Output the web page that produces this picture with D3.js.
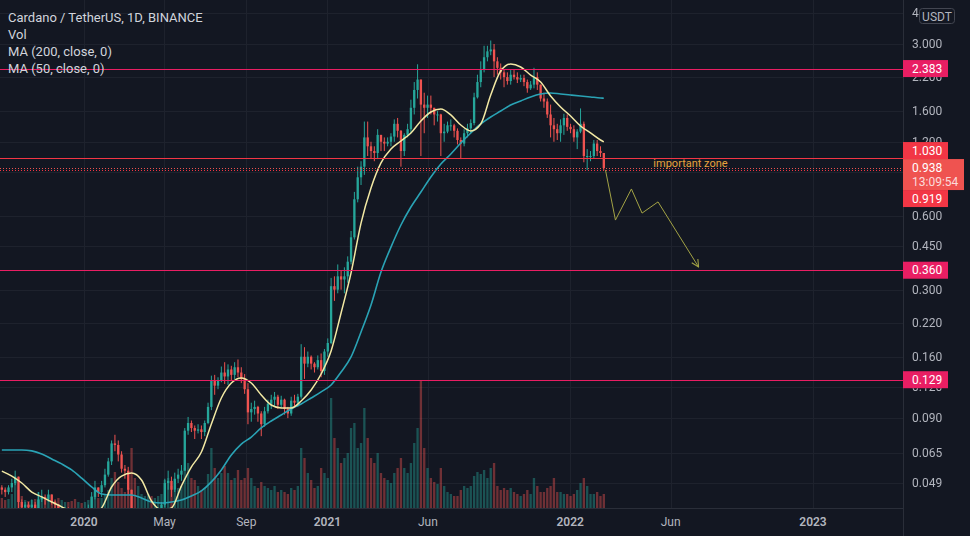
<!DOCTYPE html>
<html><head><meta charset="utf-8">
<script src="https://cdn.jsdelivr.net/npm/d3@7"></script>
<style>
html,body{margin:0;padding:0;background:#131722;overflow:hidden;}
svg{display:block;font-family:Roboto,"Noto Sans",sans-serif;}
</style></head><body>
<svg id="c" width="970" height="536"></svg>
<script>
// ---------------- DATA ----------------
const startDate = "2019-08-28";   // first 5-day bucket
const bucketDays = 5;
const firstOpen = 0.047;
const closes = [0.046,0.045,0.047,0.049,0.052,0.041,0.039,0.040,0.039,0.040,
0.037,0.042,0.043,0.042,0.044,0.041,0.040,0.036,0.037,0.038,
0.037,0.035,0.034,0.034,0.033,0.034,0.038,0.043,0.047,0.045,
0.048,0.053,0.060,0.071,0.070,0.064,0.056,0.055,0.046,0.029,
0.027,0.028,0.030,0.030,0.034,0.033,0.034,0.037,0.040,0.049,
0.050,0.046,0.051,0.053,0.055,0.080,0.086,0.082,0.080,0.081,
0.079,0.086,0.100,0.128,0.122,0.128,0.138,0.133,0.142,0.135,
0.145,0.138,0.130,0.118,0.095,0.098,0.100,0.094,0.085,0.096,
0.103,0.107,0.110,0.102,0.107,0.098,0.094,0.106,0.104,0.110,
0.160,0.150,0.160,0.150,0.145,0.155,0.140,0.168,0.182,0.310,
0.300,0.340,0.330,0.340,0.390,0.490,0.700,0.860,0.950,1.250,
1.150,1.100,1.080,1.280,1.200,1.180,1.200,1.260,1.420,1.330,
1.100,1.280,1.350,1.650,1.950,2.150,1.700,1.650,1.700,1.650,
1.550,1.550,1.300,1.320,1.400,1.400,1.330,1.220,1.180,1.300,
1.360,1.430,1.820,2.100,2.350,2.650,2.800,2.850,2.550,2.400,
2.300,2.200,2.120,2.250,2.200,2.150,2.180,2.100,1.980,2.050,
2.200,2.050,1.800,1.750,1.550,1.400,1.350,1.300,1.400,1.500,
1.380,1.350,1.250,1.320,1.420,1.050,1.050,1.050,1.180,1.100,
1.080,0.938];
const highs = [0.048,0.047,0.048,0.051,0.055,0.052,0.042,0.041,0.041,0.042,
0.041,0.045,0.046,0.044,0.046,0.044,0.042,0.040,0.039,0.039,
0.039,0.037,0.036,0.036,0.035,0.035,0.040,0.045,0.050,0.047,
0.050,0.056,0.062,0.073,0.077,0.073,0.066,0.058,0.057,0.046,
0.031,0.031,0.031,0.033,0.035,0.036,0.036,0.039,0.041,0.051,
0.055,0.052,0.054,0.056,0.058,0.082,0.091,0.088,0.084,0.085,
0.084,0.088,0.104,0.134,0.135,0.132,0.146,0.152,0.149,0.147,
0.152,0.156,0.145,0.136,0.125,0.104,0.106,0.101,0.096,0.100,
0.107,0.112,0.115,0.112,0.111,0.108,0.100,0.110,0.112,0.113,
0.180,0.175,0.168,0.162,0.152,0.162,0.165,0.172,0.190,0.335,
0.340,0.380,0.360,0.370,0.410,0.520,0.750,0.950,1.000,1.450,
1.450,1.200,1.150,1.350,1.280,1.250,1.250,1.300,1.480,1.500,
1.340,1.300,1.420,1.780,2.100,2.480,2.150,1.900,1.850,1.850,
1.650,1.600,1.560,1.420,1.450,1.480,1.420,1.360,1.250,1.350,
1.420,1.480,1.900,2.250,2.550,2.950,2.950,3.100,3.000,2.650,
2.500,2.350,2.300,2.350,2.350,2.300,2.250,2.250,2.150,2.120,
2.400,2.300,2.050,1.900,1.800,1.700,1.500,1.420,1.480,1.560,
1.550,1.420,1.400,1.350,1.640,1.450,1.120,1.100,1.220,1.220,
1.150,1.080];
const lows = [0.044,0.043,0.044,0.045,0.048,0.038,0.036,0.038,0.037,0.038,
0.036,0.036,0.041,0.040,0.041,0.040,0.038,0.034,0.034,0.036,
0.036,0.034,0.031,0.033,0.032,0.032,0.033,0.037,0.042,0.043,
0.043,0.047,0.052,0.058,0.066,0.060,0.054,0.051,0.044,0.022,
0.024,0.026,0.027,0.028,0.029,0.031,0.031,0.033,0.036,0.039,
0.046,0.043,0.045,0.049,0.050,0.055,0.077,0.079,0.074,0.078,
0.074,0.076,0.085,0.097,0.112,0.118,0.126,0.124,0.123,0.128,
0.130,0.132,0.125,0.113,0.085,0.087,0.093,0.087,0.076,0.083,
0.094,0.098,0.101,0.098,0.099,0.093,0.090,0.092,0.099,0.100,
0.108,0.130,0.145,0.142,0.138,0.142,0.132,0.135,0.160,0.180,
0.270,0.290,0.300,0.290,0.320,0.380,0.480,0.680,0.800,0.880,
1.050,1.020,1.000,1.020,1.100,1.100,1.150,1.150,1.200,1.250,
0.950,1.050,1.250,1.300,1.550,1.800,1.050,1.300,1.500,1.550,
1.400,1.450,1.050,1.200,1.300,1.330,1.250,1.170,1.020,1.150,
1.250,1.300,1.400,1.800,2.000,2.300,2.550,2.700,2.200,2.250,
2.150,2.000,2.050,2.050,2.150,2.080,2.100,2.020,1.900,1.950,
1.980,1.950,1.750,1.650,1.500,1.250,1.200,1.220,1.200,1.280,
1.330,1.300,1.200,1.120,1.300,0.990,0.920,1.000,1.030,1.050,
1.040,0.919];
const volumes = [100,80,90,140,280,180,120,80,70,80,
90,160,120,80,90,80,70,100,80,60,
60,70,90,60,50,60,80,120,160,100,
100,140,180,300,360,260,200,160,200,600,
300,220,140,120,140,120,100,120,140,280,
300,220,180,200,220,400,450,300,280,220,
180,200,340,600,400,300,350,420,350,280,
300,380,280,300,400,300,220,200,260,220,
200,180,220,160,180,160,140,200,180,220,
600,500,350,280,200,220,400,350,300,1100,
700,600,450,500,550,800,850,600,650,1000,
700,500,450,550,350,300,280,250,350,400,
500,400,350,450,650,800,1280,600,400,300,
260,240,400,220,160,140,120,120,180,220,
200,220,320,360,340,380,300,400,450,220,
180,200,180,200,160,140,120,140,180,140,
300,220,160,160,200,220,300,160,160,140,
140,120,140,180,250,300,220,140,140,160,
120,140];
// moving averages, one value every 3 buckets (last = final bucket)
const maStep = 3;
const ma200 = [0.0668,0.0668,0.0668,0.0662,0.0643,0.0614,0.0586,0.0554,0.0513,0.0472,
0.0442,0.0438,0.0438,0.0438,0.0426,0.0410,0.0406,0.0410,0.0418,0.0434,
0.0455,0.0495,0.0554,0.0637,0.0706,0.0754,0.0821,0.0876,0.0927,0.0981,
0.1028,0.1087,0.1151,0.1228,0.1387,0.1597,0.2018,0.2599,0.354,0.447,
0.550,0.651,0.749,0.863,0.974,1.070,1.186,1.303,1.418,1.514,
1.601,1.694,1.759,1.826,1.877,1.896,1.877,1.860,1.843,1.826,
1.809,1.805];
const ma50 = [0.0548,0.0523,0.0490,0.0450,0.0430,0.0410,0.0392,0.0374,0.0363,0.0367,
0.0388,0.0472,0.0523,0.0538,0.0504,0.0414,0.0381,0.0388,0.0477,0.0570,
0.0655,0.0852,0.1087,0.1251,0.1312,0.1251,0.1118,0.1018,0.0990,0.0990,
0.1057,0.1172,0.1361,0.1689,0.2411,0.351,0.560,0.778,0.984,1.121,
1.209,1.303,1.458,1.586,1.632,1.543,1.404,1.328,1.418,1.860,
2.329,2.488,2.418,2.243,2.101,1.843,1.663,1.528,1.391,1.303,
1.220,1.198];
const gridPrices = [4,3,2.2,1.6,1.2,0.9,0.6,0.45,0.3,0.22,0.16,0.12,0.09,0.065,0.049];
const tickLabels = ["4","3.000","2.200","1.600","1.200","","0.600","0.450","0.300","0.220","0.160","0.120","0.090","0.065","0.049"];
const timeTicks = ["2020-01-01","2020-05-01","2020-09-01","2021-01-01","2021-06-01","2022-01-01","2022-06-01","2023-01-01"];
const timeLabels = ["2020","May","Sep","2021","Jun","2022","Jun","2023"];
const levelPrices = [2.383,1.030,0.360,0.129];
const levelColors = ["#e91e63","#f23645","#e91e63","#e91e63"];
const lastPrice = 0.938, lastColor = "#ef5350", countdown = "13:09:54";
const prevPrice = 0.919, prevColor = "#f23645";
const projDates = ["2022-02-23","2022-03-10","2022-04-03","2022-04-19","2022-05-13","2022-07-13"];
const projPrices = [0.921,0.576,0.771,0.615,0.683,0.371];
const zoneText = "important zone", zoneDate = "2022-05-06";
const legendLines = ["Cardano / TetherUS, 1D, BINANCE","Vol","MA (200, close, 0)","MA (50, close, 0)"];

// ---------------- CHART ----------------
const W = 970, H = 536, paneR = 903, paneB = 508;
const BG = "#131722", TXT = "#b2b5be", GRID = "#1e222d";
const UP = "#26a69a", DN = "#ef5350";
const svg = d3.select("#c");
const day = s => new Date(s + "T00:00:00Z");
const x = d3.scaleUtc().domain([day("2020-01-01"), day("2023-01-01")]).range([84, 813]);
const y = d3.scaleLog().domain([3, 0.049]).range([44, 483]);
const v = d3.scaleLinear().domain([0, 1280]).range([paneB, 380]);
const fmt = d3.format(".3f");

svg.append("rect").attr("width", W).attr("height", H).attr("fill", BG);
const defs = svg.append("defs");
defs.append("clipPath").attr("id", "pane")
  .append("rect").attr("x", 0).attr("y", 0).attr("width", paneR).attr("height", paneB);

// grid
const grid = svg.append("g").attr("shape-rendering", "crispEdges").attr("stroke", GRID);
gridPrices.forEach(p => grid.append("line").attr("x1", 0).attr("x2", paneR)
  .attr("y1", Math.round(y(p)) + 0.5).attr("y2", Math.round(y(p)) + 0.5));
timeTicks.forEach(t => grid.append("line").attr("y1", 0).attr("y2", paneB)
  .attr("x1", Math.round(x(day(t))) + 0.5).attr("x2", Math.round(x(day(t))) + 0.5));

// candles
const t0 = day(startDate);
const candles = closes.map((c, i) => {
  const open = i === 0 ? firstOpen : closes[i - 1];
  const d0 = d3.utcDay.offset(t0, i * bucketDays);
  const mid = new Date(+d0 + bucketDays * 43200000);
  return { date: mid, open, close: c, high: Math.max(highs[i], open, c), low: Math.min(lows[i], open, c), vol: volumes[i], up: c >= open };
});
const step = x(d3.utcDay.offset(t0, bucketDays)) - x(t0);
const bw = step * 0.7;

const pane = svg.append("g").attr("clip-path", "url(#pane)");
// volume
pane.append("g").selectAll("rect").data(candles).join("rect")
  .attr("x", d => x(d.date) - bw / 2).attr("width", bw)
  .attr("y", d => v(d.vol)).attr("height", d => paneB - v(d.vol))
  .attr("fill", d => d.up ? "rgba(38,166,154,0.42)" : "rgba(239,83,80,0.42)");
// wicks + bodies
const cg = pane.append("g");
cg.selectAll("line").data(candles).join("line")
  .attr("x1", d => x(d.date)).attr("x2", d => x(d.date))
  .attr("y1", d => y(d.high)).attr("y2", d => y(d.low))
  .attr("stroke", d => d.up ? UP : DN).attr("stroke-width", 1);
cg.selectAll("rect").data(candles).join("rect")
  .attr("x", d => x(d.date) - bw / 2).attr("width", bw)
  .attr("y", d => y(Math.max(d.open, d.close)))
  .attr("height", d => Math.max(1, Math.abs(y(d.open) - y(d.close))))
  .attr("fill", d => d.up ? UP : DN);

// moving averages
const maPts = arr => arr.map((val, k) => {
  const idx = Math.min(k * maStep, candles.length - 1);
  return [x(candles[idx].date), y(val)];
});
const lineGen = d3.line().curve(d3.curveMonotoneX);
pane.append("path").attr("d", lineGen(maPts(ma200))).attr("fill", "none")
  .attr("stroke", "#2aa3b5").attr("stroke-width", 1.6);
pane.append("path").attr("d", lineGen(maPts(ma50))).attr("fill", "none")
  .attr("stroke", "#f3e9a4").attr("stroke-width", 1.5);

// horizontal levels
const lv = svg.append("g").attr("shape-rendering", "crispEdges");
levelPrices.forEach((p, i) => lv.append("line").attr("x1", 0).attr("x2", paneR)
  .attr("y1", Math.round(y(p)) + 0.5).attr("y2", Math.round(y(p)) + 0.5)
  .attr("stroke", levelColors[i]).attr("stroke-width", 1));
[[lastPrice, lastColor], [prevPrice, prevColor]].forEach(([p, c]) =>
  lv.append("line").attr("x1", 0).attr("x2", paneR)
    .attr("y1", Math.round(y(p)) + 0.5).attr("y2", Math.round(y(p)) + 0.5)
    .attr("stroke", c).attr("stroke-dasharray", "1 2"));

// projection drawing
defs.append("marker").attr("id", "ah").attr("viewBox", "0 0 10 10").attr("refX", 9).attr("refY", 5)
  .attr("markerWidth", 9).attr("markerHeight", 9).attr("markerUnits", "userSpaceOnUse").attr("orient", "auto")
  .append("path").attr("d", "M1,1 L9,5 L1,9").attr("fill", "none").attr("stroke", "#a3a345").attr("stroke-width", 1.2);
const proj = projDates.map((d, i) => [x(day(d)), y(projPrices[i])]);
svg.append("path").attr("d", d3.line()(proj)).attr("fill", "none")
  .attr("stroke", "#a3a345").attr("stroke-width", 1).attr("marker-end", "url(#ah)");
svg.append("text").attr("x", x(day(zoneDate))).attr("y", (y(1.030) + y(lastPrice)) / 2)
  .attr("dominant-baseline", "central").attr("font-size", 11).attr("fill", "#e8a33d").text(zoneText);

// legend
legendLines.forEach((t, i) => svg.append("text").attr("x", 8).attr("y", 17 + i * 17)
  .attr("dominant-baseline", "central").attr("font-size", 13).attr("fill", "#d1d4dc").text(t));

// axes borders
svg.append("line").attr("x1", paneR + 0.5).attr("x2", paneR + 0.5).attr("y1", 0).attr("y2", H)
  .attr("stroke", "#2a2e39").attr("shape-rendering", "crispEdges");
svg.append("line").attr("x1", 0).attr("x2", paneR).attr("y1", paneB + 0.5).attr("y2", paneB + 0.5)
  .attr("stroke", "#2a2e39").attr("shape-rendering", "crispEdges");

// price label box layout (stacked around the last-price box)
const lastTop = y(lastPrice) - 9, lastH = 31;
const boxes = levelPrices.map((p, i) => ({ p, c: levelColors[i] })).concat([{ p: prevPrice, c: prevColor }]);
boxes.forEach(b => {
  let top = y(b.p) - 8.5; const h = 17;
  if (top < lastTop + lastH && top + h > lastTop) {
    top = (y(b.p) < y(lastPrice)) ? lastTop - h : lastTop + lastH;
  }
  b.top = top; b.h = h;
});

// mask so axis tick labels are hidden beneath the price boxes
const mask = defs.append("mask").attr("id", "tickMask").attr("maskUnits", "userSpaceOnUse")
  .attr("x", 0).attr("y", 0).attr("width", W).attr("height", H);
mask.append("rect").attr("width", W).attr("height", H).attr("fill", "#fff");
boxes.forEach(b => mask.append("rect").attr("x", paneR).attr("y", b.top).attr("width", 45).attr("height", b.h).attr("fill", "#000"));
mask.append("rect").attr("x", paneR).attr("y", lastTop).attr("width", 61).attr("height", lastH).attr("fill", "#000");

// price axis labels
const tg = svg.append("g").attr("mask", "url(#tickMask)");
gridPrices.forEach((p, i) => { if (tickLabels[i]) tg.append("text").attr("x", 912).attr("y", y(p))
  .attr("dominant-baseline", "central").attr("font-size", 12).attr("fill", TXT).text(tickLabels[i]); });
// time axis labels
timeTicks.forEach((t, i) => svg.append("text").attr("x", x(day(t))).attr("y", 522)
  .attr("text-anchor", "middle").attr("dominant-baseline", "central").attr("font-size", 12)
  .attr("font-weight", /^\d{4}$/.test(timeLabels[i]) ? 600 : 400).attr("fill", TXT).text(timeLabels[i]));

// USDT badge
svg.append("rect").attr("x", 919.5).attr("y", 8.5).attr("width", 35).attr("height", 15).attr("rx", 3)
  .attr("fill", BG).attr("stroke", "#434651");
svg.append("text").attr("x", 937).attr("y", 16.5).attr("text-anchor", "middle").attr("dominant-baseline", "central")
  .attr("font-size", 12).attr("fill", TXT).text("USDT");

// price label boxes
boxes.forEach(b => {
  svg.append("rect").attr("x", paneR).attr("y", b.top).attr("width", 45).attr("height", b.h).attr("fill", b.c);
  svg.append("text").attr("x", 912).attr("y", b.top + b.h / 2).attr("dominant-baseline", "central")
    .attr("font-size", 12).attr("fill", "#fff").text(fmt(b.p));
});
svg.append("rect").attr("x", paneR).attr("y", lastTop).attr("width", 61).attr("height", lastH).attr("fill", lastColor);
svg.append("text").attr("x", 912).attr("y", lastTop + 8.5).attr("dominant-baseline", "central")
  .attr("font-size", 12).attr("fill", "#fff").text(fmt(lastPrice));
svg.append("text").attr("x", 912).attr("y", lastTop + 23).attr("dominant-baseline", "central")
  .attr("font-size", 12).attr("fill", "rgba(255,255,255,0.8)").text(countdown);
</script>
</body></html>
